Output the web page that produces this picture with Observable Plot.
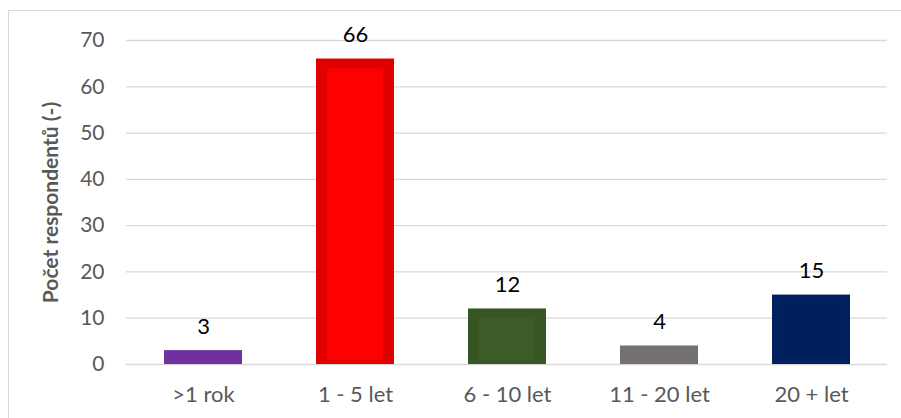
<!DOCTYPE html>
<html>
<head>
<meta charset="utf-8">
<script src="https://cdn.jsdelivr.net/npm/d3@7"></script>
<script src="https://cdn.jsdelivr.net/npm/@observablehq/plot@0.6"></script>
<style>
  html, body { margin: 0; padding: 0; background: #fff; }
  #wrap { position: relative; width: 901px; height: 418px; overflow: hidden; }
  #frame { position: absolute; left: 8px; top: 10px; width: 1000px; height: 1000px;
           border-left: 1.5px solid #d9d9d9; border-top: 1.5px solid #d9d9d9; pointer-events: none; z-index: 2; }
</style>
</head>
<body>
<div id="wrap"><div id="frame"></div></div>
<script>
const categories = [">1 rok", "1 - 5 let", "6 - 10 let", "11 - 20 let", "20 + let"];
const values = [3, 66, 12, 4, 15];
const outerColors = ["#7030A0", "#E00000", "#375623", "#767171", "#002060"];
const innerColors = ["#7030A0", "#FF0000", "#3B5B28", "#767171", "#001E5C"];
const yTicks = [0, 10, 20, 30, 40, 50, 60, 70];
const yTitle = "Počet respondentů (-)";

const data = categories.map((c, i) => ({cat: c, value: values[i], outer: outerColors[i], inner: innerColors[i]}));

const chart = Plot.plot({
  width: 901,
  height: 418,
  marginLeft: 126,
  marginRight: 14,
  marginTop: 40,
  marginBottom: 54,
  style: {fontFamily: "Lato, sans-serif", fontSize: "21px", color: "#595959", background: "transparent"},
  x: {domain: categories, paddingInner: 0.49, paddingOuter: 0.245, label: null},
  y: {domain: [0, 70], label: null},
  marks: [
    Plot.gridY(yTicks, {stroke: "#d9d9d9", strokeOpacity: 1, strokeWidth: 1.3}),
    Plot.axisY(yTicks, {tickSize: 0, tickPadding: 22, fontSize: 21, fill: "#595959", label: null}),
    Plot.axisX({tickSize: 0, tickPadding: 22, fontSize: 22, fill: "#595959", label: null}),
    Plot.barY(data, {x: "cat", y: "value", fill: "outer"}),
    Plot.barY(data, {x: "cat", y: "value", fill: "inner", insetTop: 10, insetLeft: 11, insetRight: 11, insetBottom: 4}),
    Plot.text(data, {x: "cat", y: "value", text: d => String(d.value), dy: -24, fontSize: 22, fill: "#000"}),
    Plot.text([yTitle], {frameAnchor: "left", textAnchor: "middle", dx: -75, rotate: -90, fontWeight: "bold", fontSize: 21, fill: "#595959"})
  ]
});
chart.style.position = "absolute";
chart.style.left = "0px";
chart.style.top = "0px";
document.getElementById("wrap").appendChild(chart);
</script>
</body>
</html>
